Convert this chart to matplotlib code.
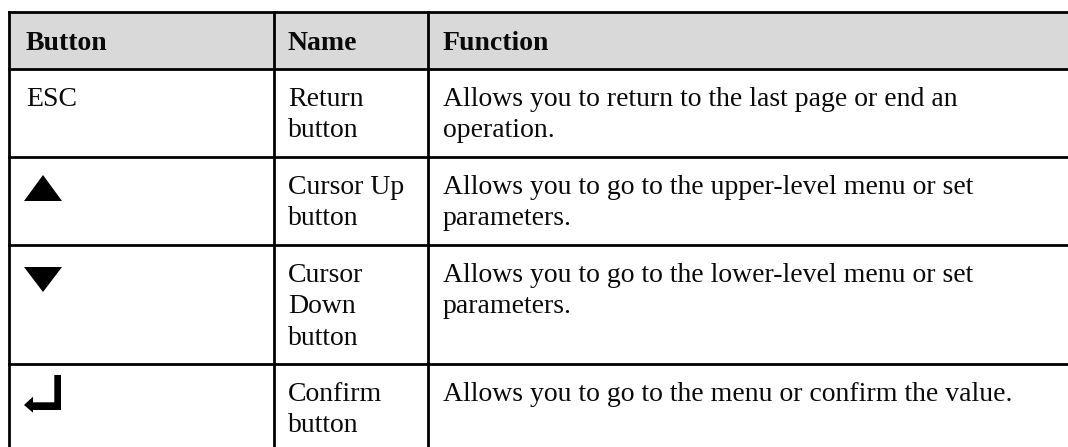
import matplotlib
matplotlib.use("Agg")
import matplotlib.pyplot as plt
from matplotlib.patches import Rectangle, Polygon

# ---- table content ----
headers = ["Button", "Name", "Function"]
buttons = ["ESC", "up", "down", "enter"]          # first column: text or icon key
names = ["Return\nbutton", "Cursor Up\nbutton", "Cursor\nDown\nbutton", "Confirm\nbutton"]
functions = [
    "Allows you to return to the last page or end an\noperation.",
    "Allows you to go to the upper-level menu or set\nparameters.",
    "Allows you to go to the lower-level menu or set\nparameters.",
    "Allows you to go to the menu or confirm the value.",
]

# ---- layout (pixels) ----
W, H = 1068, 447
col_edges = [9.3, 274, 428, 1080]
row_edges = [12.4, 69, 157, 245, 364, 470]
pad_x = [16.5, 14, 15]
header_baseline = 49.8 - 12.4
first_baseline = 36.7
line_step = 31.7
fs = 20.0
fs_head = 20.0
lw = 2.0
header_bg = "#d9d9d9"
font = "Liberation Serif"

fig = plt.figure(figsize=(W / 100, H / 100), dpi=100)
ax = fig.add_axes([0, 0, 1, 1])
ax.set_xlim(0, W)
ax.set_ylim(H, 0)
ax.axis("off")

# header background
ax.add_patch(Rectangle((col_edges[0], row_edges[0]), col_edges[-1] - col_edges[0],
                       row_edges[1] - row_edges[0], facecolor=header_bg, edgecolor="none"))

# grid lines
for y in row_edges[:-1]:
    ax.plot([col_edges[0], col_edges[-1]], [y, y], color="black", lw=lw, solid_capstyle="projecting")
for x in col_edges[:-1]:
    ax.plot([x, x], [row_edges[0], row_edges[-1]], color="black", lw=lw, solid_capstyle="projecting")

# headers
for i, h in enumerate(headers):
    ax.text(col_edges[i] + pad_x[i], row_edges[0] + header_baseline, h, fontsize=fs_head,
            fontweight="bold", family=font, va="baseline", ha="left", color="#0a0a0a")


def draw_icon(kind, x0, y0):
    # x0, y0: top-left of the icon's box
    if kind == "up":
        pts = [(0, 26), (19, 0), (38, 26)]
    elif kind == "down":
        pts = [(0, 0), (38, 0), (19, 25)]
    else:  # enter / return arrow
        pts = [(30.3, 0), (37, 0), (37, 35), (9, 35), (9, 37.7), (0, 30), (9, 21.7),
               (9, 27.3), (30.3, 27.3)]
    ax.add_patch(Polygon([(x0 + px, y0 + py) for px, py in pts], closed=True,
                         facecolor="black", edgecolor="none"))


icon_offsets = {"up": 175 - 157, "down": 267 - 245, "enter": 375 - 364}

for r in range(len(names)):
    top = row_edges[r + 1]
    cells = [buttons[r], names[r], functions[r]]
    for c, txt in enumerate(cells):
        x = col_edges[c] + pad_x[c]
        if c == 0 and txt in icon_offsets:
            draw_icon(txt, col_edges[0] + 14.7, top + icon_offsets[txt])
            continue
        for k, line in enumerate(txt.split("\n")):
            ax.text(x, top + first_baseline + k * line_step, line, fontsize=fs,
                    family=font, va="baseline", ha="left", color="#0a0a0a")

fig.savefig("out.png", dpi=100, facecolor="white")
